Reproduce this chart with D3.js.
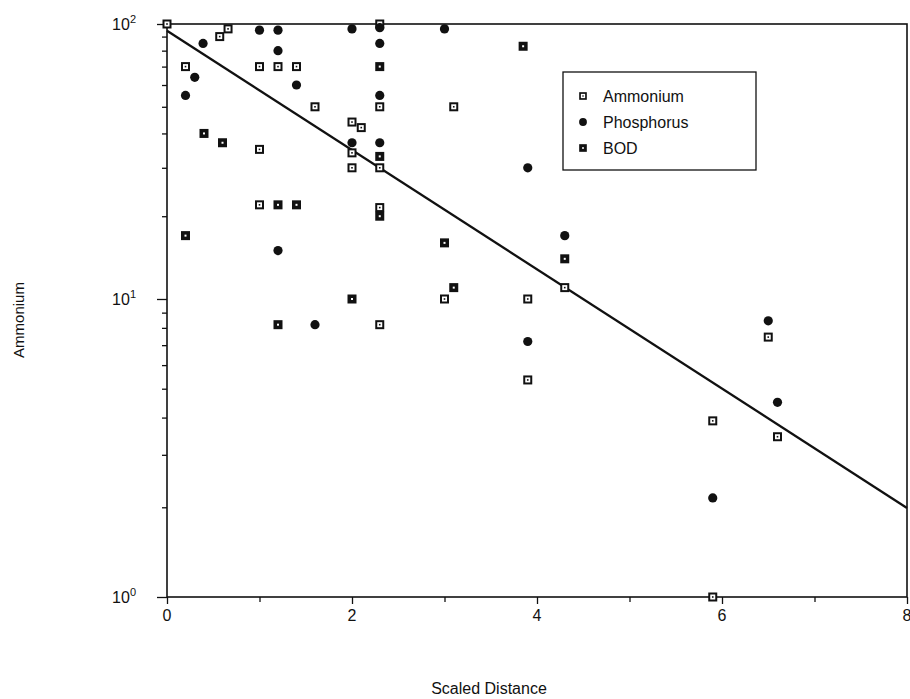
<!DOCTYPE html>
<html>
<head>
	<title>Ammonium vs Scaled Distance</title>
	<script src="https://d3js.org/d3.v7.min.js"></script>
	<style type="text/css">
		*
		{
			margin:0;
			padding:0;
		}
		body
		{
			background:#fff;
			font-family: "Liberation Sans", Arial, sans-serif;
		}
		text
		{
			fill:#111;
		}
	</style>
</head>
<body>
	<div id="chart"></div>
	<script>
		// values
		const ammoniumX = [0, 0.2, 0.57, 0.66, 1, 1, 1, 1.2, 1.4, 1.6, 2, 2.1, 2, 2, 2.3, 2.3, 2.3, 2.3, 2.3, 3.1, 3, 3.9, 3.9, 4.3, 5.9, 5.9, 6.5, 6.6];
		const ammoniumY = [100, 70, 90, 96, 70, 35, 22, 70, 70, 50, 44, 42, 34, 30, 100, 50, 30, 8.2, 21.5, 50, 10, 10, 5.35, 11, 3.9, 1.0, 7.45, 3.45];

		const phosphorusX = [0.2, 0.3, 0.39, 1, 1.2, 1.2, 1.4, 1.2, 1.6, 2, 2.3, 2.3, 2.3, 2, 2.3, 3, 3.9, 3.9, 4.3, 5.9, 6.5, 6.6];
		const phosphorusY = [55, 64, 85, 95, 95, 80, 60, 15, 8.2, 96, 97, 85, 55, 37, 37, 96, 30, 7.2, 17, 2.15, 8.45, 4.5];

		const bodX = [0.2, 0.4, 0.6, 1.2, 1.4, 1.2, 2, 2.3, 2.3, 2.3, 3, 3.1, 3.85, 4.3];
		const bodY = [17, 40, 37, 22, 22, 8.2, 10, 70, 33, 20, 16, 11, 83, 14];

		const fitX = [0, 8];
		const fitY = [94.5, 1.99];

		const xTicks = [0, 2, 4, 6, 8];
		const xMinorTicks = [1, 3, 5, 7];
		const yTicks = [1, 10, 100];
		const yTickExp = ["0", "1", "2"];
		const seriesNames = ["Ammonium", "Phosphorus", "BOD"];

		const width = 910;
		const height = 699;
		const padLeft = 167, padRight = 907, padTop = 24, padBottom = 597;
		const padMid = 299;   // the scanned axis has a taller lower decade

		const svg = d3.select("#chart").append("svg").attr("width", width).attr("height", height);

		const xScale = d3.scaleLinear().domain([0, 8]).range([padLeft, padRight]);
		const yScale = d3.scaleLog().domain([1, 10, 100]).range([padBottom, padMid, padTop]);

		const minorY = [];
		[1, 10].forEach(d => { for (let k = 2; k <= 9; k++) minorY.push(d * k); });

		// y axis: major + minor ticks pointing out
		svg.append("g")
			.attr("transform", "translate(" + padLeft + ",0)")
			.call(d3.axisLeft(yScale).tickValues(minorY).tickSize(5).tickFormat(""))
			.attr("id", "y-minor");
		svg.append("g")
			.attr("transform", "translate(" + padLeft + ",0)")
			.call(d3.axisLeft(yScale).tickValues(yTicks).tickSize(10).tickFormat(""))
			.attr("id", "y-axis");

		svg.append("g")
			.attr("transform", "translate(0," + padBottom + ")")
			.call(d3.axisBottom(xScale).tickValues(xMinorTicks).tickSize(5).tickFormat(""))
			.attr("id", "x-minor");
		svg.append("g")
			.attr("transform", "translate(0," + padBottom + ")")
			.call(d3.axisBottom(xScale).tickValues(xTicks).tickSize(7).tickFormat(""))
			.attr("id", "x-axis");

		svg.selectAll(".domain").remove();
		svg.selectAll(".tick line").attr("stroke", "#111").attr("stroke-width", 1.3);

		// frame
		svg.append("rect")
			.attr("x", padLeft).attr("y", padTop)
			.attr("width", padRight - padLeft).attr("height", padBottom - padTop)
			.attr("fill", "none").attr("stroke", "#111").attr("stroke-width", 1.6);

		// tick labels
		const yLab = svg.selectAll(".ylab").data(yTicks).enter()
			.append("text")
			.attr("class", "ylab")
			.attr("x", padLeft - 31)
			.attr("y", d => yScale(d) + 6)
			.attr("text-anchor", "end")
			.style("font-size", "16px");
		yLab.append("tspan").text("10");
		yLab.append("tspan").attr("dy", -7).style("font-size", "11px").text((d, i) => yTickExp[i]);

		svg.selectAll(".xlab").data(xTicks).enter()
			.append("text")
			.attr("class", "xlab")
			.attr("x", d => xScale(d))
			.attr("y", padBottom + 24)
			.attr("text-anchor", "middle")
			.style("font-size", "16px")
			.text(d => d);

		// axis titles
		svg.append("text")
			.attr("x", 489)
			.attr("y", 694)
			.attr("text-anchor", "middle")
			.style("font-size", "16px")
			.text("Scaled Distance");
		svg.append("text")
			.attr("transform", "translate(24,320) rotate(-90)")
			.attr("text-anchor", "middle")
			.style("font-size", "15px")
			.text("Ammonium");

		// fitted line
		const line = d3.line().x(d => xScale(d[0])).y(d => yScale(d[1]));
		svg.append("path")
			.datum(fitX.map((d, i) => [d, fitY[i]]))
			.attr("d", line)
			.attr("fill", "none")
			.attr("stroke", "#111")
			.attr("stroke-width", 2.3);

		// markers
		function openSquare(g) {
			g.append("rect").attr("x", -4.5).attr("y", -4.5).attr("width", 9).attr("height", 9).attr("fill", "#111");
			g.append("rect").attr("x", -2.5).attr("y", -2.5).attr("width", 5).attr("height", 5).attr("fill", "#fff");
			g.append("rect").attr("x", -0.8).attr("y", -0.8).attr("width", 1.6).attr("height", 1.6).attr("fill", "#111");
		}
		function filledSquare(g) {
			g.append("rect").attr("x", -4.5).attr("y", -4.5).attr("width", 9).attr("height", 9).attr("fill", "#111");
			g.append("rect").attr("x", -1).attr("y", -1).attr("width", 2).attr("height", 2).attr("fill", "#fff");
		}
		function dot(g) {
			g.append("circle").attr("r", 4.6).attr("fill", "#111");
		}

		function plot(xs, ys, draw, cls) {
			svg.selectAll("." + cls)
				.data(xs.map((d, i) => [d, ys[i]]))
				.enter()
				.append("g")
				.attr("class", cls)
				.attr("transform", d => "translate(" + xScale(d[0]) + "," + yScale(d[1]) + ")")
				.each(function() { draw(d3.select(this)); });
		}
		plot(bodX, bodY, filledSquare, "bod");
		plot(ammoniumX, ammoniumY, openSquare, "amm");
		plot(phosphorusX, phosphorusY, dot, "phos");

		// legend
		const legend = svg.append("g").attr("transform", "translate(563,72)");
		legend.append("rect")
			.attr("width", 193).attr("height", 98)
			.attr("fill", "#fff").attr("stroke", "#111").attr("stroke-width", 1.3);
		const draws = [openSquare, dot, filledSquare];
		seriesNames.forEach((name, i) => {
			const row = legend.append("g").attr("transform", "translate(20," + (24 + i * 26) + ")");
			const m = row.append("g").attr("transform", "scale(0.85)");
			draws[i](m);
			row.append("text")
				.attr("x", 20)
				.attr("y", 6)
				.style("font-size", "16px")
				.text(name);
		});
	</script>
</body>
</html>
